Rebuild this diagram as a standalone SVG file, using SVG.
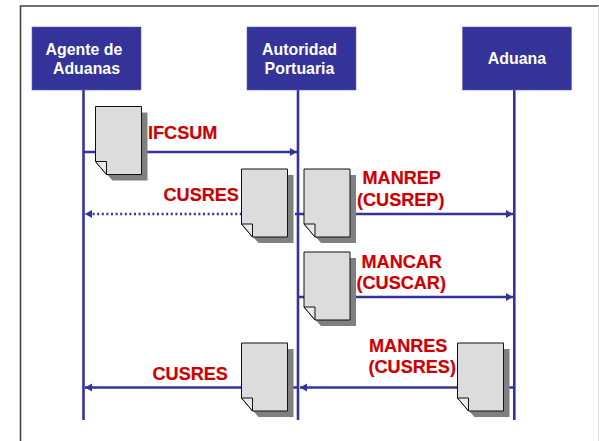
<svg xmlns="http://www.w3.org/2000/svg" width="599" height="441" viewBox="0 0 599 441">
<style>
.box{fill:#333399;stroke:#6666b8;stroke-width:.6}
.nt{font:bold 15.900px "Liberation Sans",Arial,sans-serif;fill:#fff;text-anchor:middle}
.lbl{font:bold 18.100px "Liberation Sans",Arial,sans-serif;fill:#cc0000;stroke:#cc0000;stroke-width:.2}
.life{stroke:#333399;stroke-width:2.6;fill:none}
.msg{stroke:#333399;stroke-width:2.4;fill:none}
.shadow{fill:#808080}
.page{fill:#dcdcdc;stroke:#111;stroke-width:1}
.fold{fill:#e8e8e8;stroke:#111;stroke-width:1}
</style>
<defs>
<marker id="ah" markerUnits="userSpaceOnUse" markerWidth="8" markerHeight="9" refX="7" refY="4" orient="auto"><path d="M0 0L7 4L0 8z" fill="#333399"/></marker>
<g id="doc">
<path class="shadow" d="M6 6H52V74H17L6 62z"/>
<path class="page" d="M0 0H46V68H11L0 55z"/>
<path class="fold" d="M0 55H11V68z"/>
</g>
</defs>
<rect width="599" height="441" fill="#fff"/>
<path d="M20.500 441V6H599" fill="none" stroke="#444" stroke-width="1.600"/>
<path d="M598.500 6V441" fill="none" stroke="#ddd" stroke-width="1"/>
<g id="connectors">
<path class="life" d="M83.500 90V420"/>
<path class="life" d="M298 90V420"/>
<path class="life" d="M514.300 90V420"/>
<path class="msg" marker-end="url(#ah)" d="M84 152H297"/>
<path class="msg" stroke-dasharray="2 2.600" marker-end="url(#ah)" d="M297 214H85"/>
<path class="msg" marker-end="url(#ah)" d="M299 214H513"/>
<path class="msg" marker-end="url(#ah)" d="M299 297H513"/>
<path class="msg" marker-end="url(#ah)" d="M297 387.500H85"/>
<path class="msg" marker-end="url(#ah)" d="M513 387.500H300"/>
</g>
<g id="agente"><rect class="box" x="32" y="27" width="109" height="63"/><text class="nt" x="84" y="55">Agente de</text><text class="nt" x="86.500" y="74">Aduanas</text></g>
<g id="autoridad"><rect class="box" x="247" y="27" width="109" height="63"/><text class="nt" x="299.500" y="55">Autoridad</text><text class="nt" x="299.500" y="74">Portuaria</text></g>
<g id="aduana"><rect class="box" x="462.500" y="27" width="109" height="63"/><text class="nt" x="517" y="64">Aduana</text></g>
<g id="doc-ifcsum"><use href="#doc" x="95.500" y="106.500"/><text class="lbl" x="148" y="139">IFCSUM</text></g>
<g id="doc-cusres-1"><use href="#doc" x="241.500" y="169"/><text class="lbl" x="163.500" y="200.500">CUSRES</text></g>
<g id="doc-manrep"><use href="#doc" x="304" y="169"/><text class="lbl" x="362.500" y="183.500">MANREP</text><text class="lbl" x="357" y="205.500">(CUSREP)</text></g>
<g id="doc-mancar"><use href="#doc" x="304" y="252"/><text class="lbl" x="361.500" y="268">MANCAR</text><text class="lbl" x="356.500" y="289">(CUSCAR)</text></g>
<g id="doc-cusres-2"><use href="#doc" x="241.500" y="343"/><text class="lbl" x="152.500" y="379.500">CUSRES</text></g>
<g id="doc-manres"><use href="#doc" x="457.500" y="343"/><text class="lbl" x="369" y="351.500">MANRES</text><text class="lbl" x="368.500" y="373">(CUSRES)</text></g>
</svg>
